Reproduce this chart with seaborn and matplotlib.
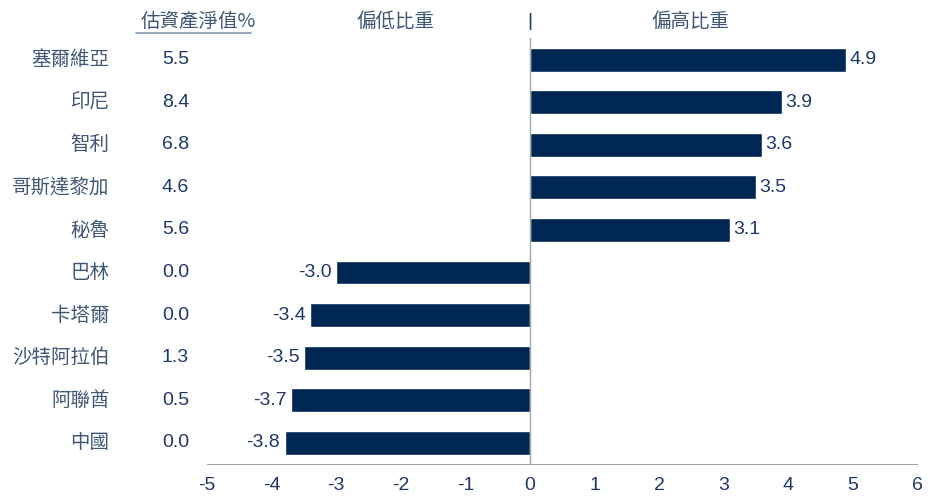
import matplotlib
matplotlib.use("Agg")
import matplotlib.pyplot as plt
import seaborn as sns
import pandas as pd

countries = ["塞爾維亞", "印尼", "智利", "哥斯達黎加", "秘魯",
             "巴林", "卡塔爾", "沙特阿拉伯", "阿聯酋", "中國"]
weights = [4.9, 3.9, 3.6, 3.5, 3.1, -3.0, -3.4, -3.5, -3.7, -3.8]
nav = ["5.5", "8.4", "6.8", "4.6", "5.6", "0.0", "0.0", "1.3", "0.5", "0.0"]
xticks = list(range(-5, 7))

df = pd.DataFrame({"country": countries, "weight": weights})

bar_color = "#002653"
label_color = "#3F5775"
num_color = "#1F3864"
axis_color = "#A6A6A6"
fs = 14

sns.set_style("white")
plt.rcParams["font.family"] = ["Liberation Sans", "Noto Sans CJK TC", "DejaVu Sans"]
cjk = ["Noto Sans CJK TC", "DejaVu Sans"]

fig = plt.figure(figsize=(9.37, 4.98), dpi=100)
ax = fig.add_axes([0.221, 0.068, 0.758, 0.855])

sns.barplot(data=df, x="weight", y="country", order=countries, color=bar_color,
            width=0.56, saturation=1, orient="h", ax=ax)

ax.set_xlim(-5, 6)
ax.set_ylim(9.5, -0.5)
ax.set_xticks(xticks)
ax.set_xticklabels([str(t) for t in xticks], fontsize=fs, color=num_color)
ax.set_yticks([])
ax.set_xlabel("")
ax.set_ylabel("")

for s in ["top", "right", "left"]:
    ax.spines[s].set_visible(False)
ax.spines["bottom"].set_color(axis_color)
ax.tick_params(axis="x", direction="out", length=7, color=axis_color, pad=2)
ax.axvline(0, color=axis_color, lw=1, zorder=3)

# value labels at bar ends
for i, v in enumerate(weights):
    if v >= 0:
        ax.text(v + 0.05, i, f"{v:.1f}", ha="left", va="center",
                fontsize=fs, color=num_color)
    else:
        ax.text(v - 0.07, i, f"{v:.1f}", ha="right", va="center",
                fontsize=fs, color=num_color)

# country names and NAV column
for i, (c, n) in enumerate(zip(countries, nav)):
    ax.text(-6.51, i, c, ha="right", va="center", fontsize=fs,
            color=label_color, family=cjk, clip_on=False)
    ax.text(-5.49, i, n, ha="center", va="center", fontsize=fs,
            color=num_color, clip_on=False)

# headers
ax.text(-5.14, -0.9, "估資產淨值%", ha="center", va="center", fontsize=fs,
        color=label_color, family=cjk, clip_on=False)
ax.plot([-6.1, -4.32], [-0.63, -0.63], color="#8497B0", lw=1.2, clip_on=False)
ax.text(-2.09, -0.9, "偏低比重", ha="center", va="center", fontsize=fs,
        color=label_color, family=cjk, clip_on=False)
ax.text(0, -0.9, "|", ha="center", va="center", fontsize=fs,
        color=num_color, clip_on=False)
ax.text(2.48, -0.9, "偏高比重", ha="center", va="center", fontsize=fs,
        color=label_color, family=cjk, clip_on=False)

fig.savefig("out.png", dpi=100)
plt.close(fig)
